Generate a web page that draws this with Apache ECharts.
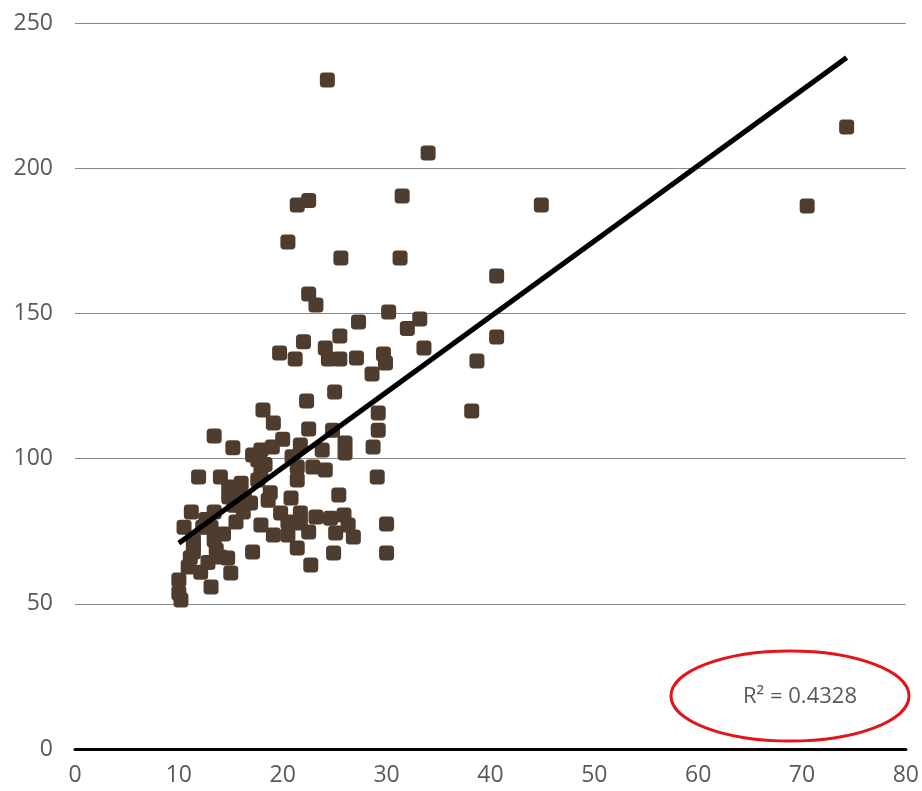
<!DOCTYPE html>
<html>
<head>
<meta charset="utf-8">
<script src="https://cdn.jsdelivr.net/npm/echarts@6/dist/echarts.min.js"></script>
<style>
  html, body { margin: 0; padding: 0; background: #ffffff; }
  #chart { width: 922px; height: 791px; }
</style>
</head>
<body>
<div id="chart"></div>
<script>
// Observations: x values and matching y values
const xValues = [
  24.3, 74.3, 34.0, 31.5, 44.9, 70.5, 22.5, 21.4, 20.5, 25.6,
  31.3, 40.6, 22.5, 23.2, 27.3, 30.2, 33.2, 32.0, 25.5, 22.0,
  33.6, 40.6, 19.7, 21.2, 24.1, 24.4, 25.5, 27.1, 29.7, 29.9,
  28.6, 38.7, 38.2, 25.0, 22.3, 18.1, 19.1, 29.2, 29.2, 22.5,
  24.8, 13.4, 15.2, 20.0, 21.7, 23.8, 26.0, 26.0, 28.7, 17.1,
  17.9, 19.0, 17.6, 11.9, 14.0, 14.8, 15.8, 17.9, 17.6, 21.4,
  21.4, 22.9, 24.1, 29.1, 18.8, 20.8, 25.4, 14.8, 16.9, 16.2,
  11.2, 13.4, 10.5, 13.1, 15.5, 17.9, 19.8, 20.5, 19.1, 21.7,
  21.7, 22.5, 21.4, 23.2, 24.6, 25.9, 26.3, 25.1, 26.8, 30.0,
  30.0, 24.9, 22.7, 17.1, 11.4, 13.4, 11.4, 13.6, 14.7, 15.0,
  10.9, 12.1, 13.1, 10.0, 10.0, 10.2, 20.5, 12.3, 16.3, 18.6,
  11.4, 14.0, 12.6, 14.3, 12.8, 11.1, 16.0, 15.3, 18.3, 20.9
];
const yValues = [
  230.4, 214.2, 205.2, 190.4, 187.3, 187.0, 188.9, 187.3, 174.6, 169.1,
  169.1, 162.9, 156.7, 152.9, 147.0, 150.5, 148.1, 144.8, 142.2, 140.2,
  138.1, 141.9, 136.4, 134.3, 138.1, 134.3, 134.3, 134.6, 136.0, 132.9,
  129.1, 133.6, 116.4, 122.9, 119.8, 116.7, 112.3, 115.7, 109.8, 110.2,
  109.8, 107.8, 103.7, 106.7, 104.7, 103.0, 105.4, 101.9, 104.0, 101.2,
  103.0, 104.0, 99.5, 93.7, 93.7, 90.2, 89.2, 95.0, 92.6, 97.1,
  92.6, 97.1, 96.1, 93.7, 88.2, 86.4, 87.5, 86.8, 84.7, 81.6,
  81.6, 81.6, 76.4, 76.4, 78.2, 77.1, 81.3, 78.2, 73.7, 81.3,
  77.8, 74.7, 69.2, 79.9, 79.5, 80.6, 77.1, 74.4, 73.0, 77.5,
  67.5, 67.5, 63.4, 67.8, 72.0, 72.0, 67.8, 68.5, 65.8, 60.6,
  62.7, 60.9, 55.8, 58.2, 53.7, 51.3, 73.7, 76.4, 86.4, 85.7,
  70.2, 66.1, 79.0, 74.0, 64.2, 65.9, 91.5, 83.9, 98.0, 100.6
];

// Linear trend line: y = slope * x + intercept, drawn over the data's x range
const trendSlope = 2.6;
const trendIntercept = 44.9;
const trendRange = [10.0, 74.3];
const rSquaredText = 'R² = 0.4328';

// Axis ticks
const xTicks = [0, 10, 20, 30, 40, 50, 60, 70, 80];
const yTicks = [0, 50, 100, 150, 200, 250];

const points = xValues.map((x, i) => [x, yValues[i]]);
const trendPoints = trendRange.map(x => [x, trendSlope * x + trendIntercept]);

const FONT = '"Open Sans", "Noto Sans", sans-serif';
const chart = echarts.init(document.getElementById('chart'), null, { renderer: 'canvas' });

chart.setOption({
  backgroundColor: '#ffffff',
  animation: false,
  grid: { left: 75, right: 16, top: 23, bottom: 42, containLabel: false },
  xAxis: {
    type: 'value',
    min: xTicks[0],
    max: xTicks[xTicks.length - 1],
    interval: 10,
    axisLine: { show: true, onZero: false, lineStyle: { color: '#000000', width: 3 } },
    axisTick: { show: false },
    splitLine: { show: false },
    axisLabel: { color: '#595959', fontSize: 23, fontFamily: FONT, margin: 15 }
  },
  yAxis: {
    type: 'value',
    min: yTicks[0],
    max: yTicks[yTicks.length - 1],
    interval: 50,
    axisLine: { show: false },
    axisTick: { show: false },
    splitLine: { show: true, lineStyle: { color: '#8a8a8a', width: 1.2 } },
    axisLabel: { color: '#595959', fontSize: 23, fontFamily: FONT, margin: 22 }
  },
  series: [
    {
      type: 'scatter',
      data: points,
      symbol: 'roundRect',
      symbolSize: 15,
      itemStyle: { color: '#4e3c2f', opacity: 1 },
      z: 2
    },
    {
      type: 'line',
      data: trendPoints,
      symbol: 'none',
      lineStyle: { color: '#000000', width: 5 },
      z: 3
    }
  ],
  graphic: [
    {
      type: 'text',
      left: 40,
      top: -22,
      style: { text: 'Capacity (y/yr)', font: '22px ' + FONT, fill: '#595959' }
    },
    {
      type: 'ellipse',
      shape: { cx: 790, cy: 696, rx: 119, ry: 45 },
      style: { fill: 'none', stroke: '#e3151b', lineWidth: 3 },
      z: 10
    },
    {
      type: 'text',
      x: 800,
      y: 697,
      style: {
        text: rSquaredText,
        font: '22px ' + FONT,
        fill: '#595959',
        align: 'center',
        verticalAlign: 'middle'
      },
      z: 10
    }
  ]
});
</script>
</body>
</html>
